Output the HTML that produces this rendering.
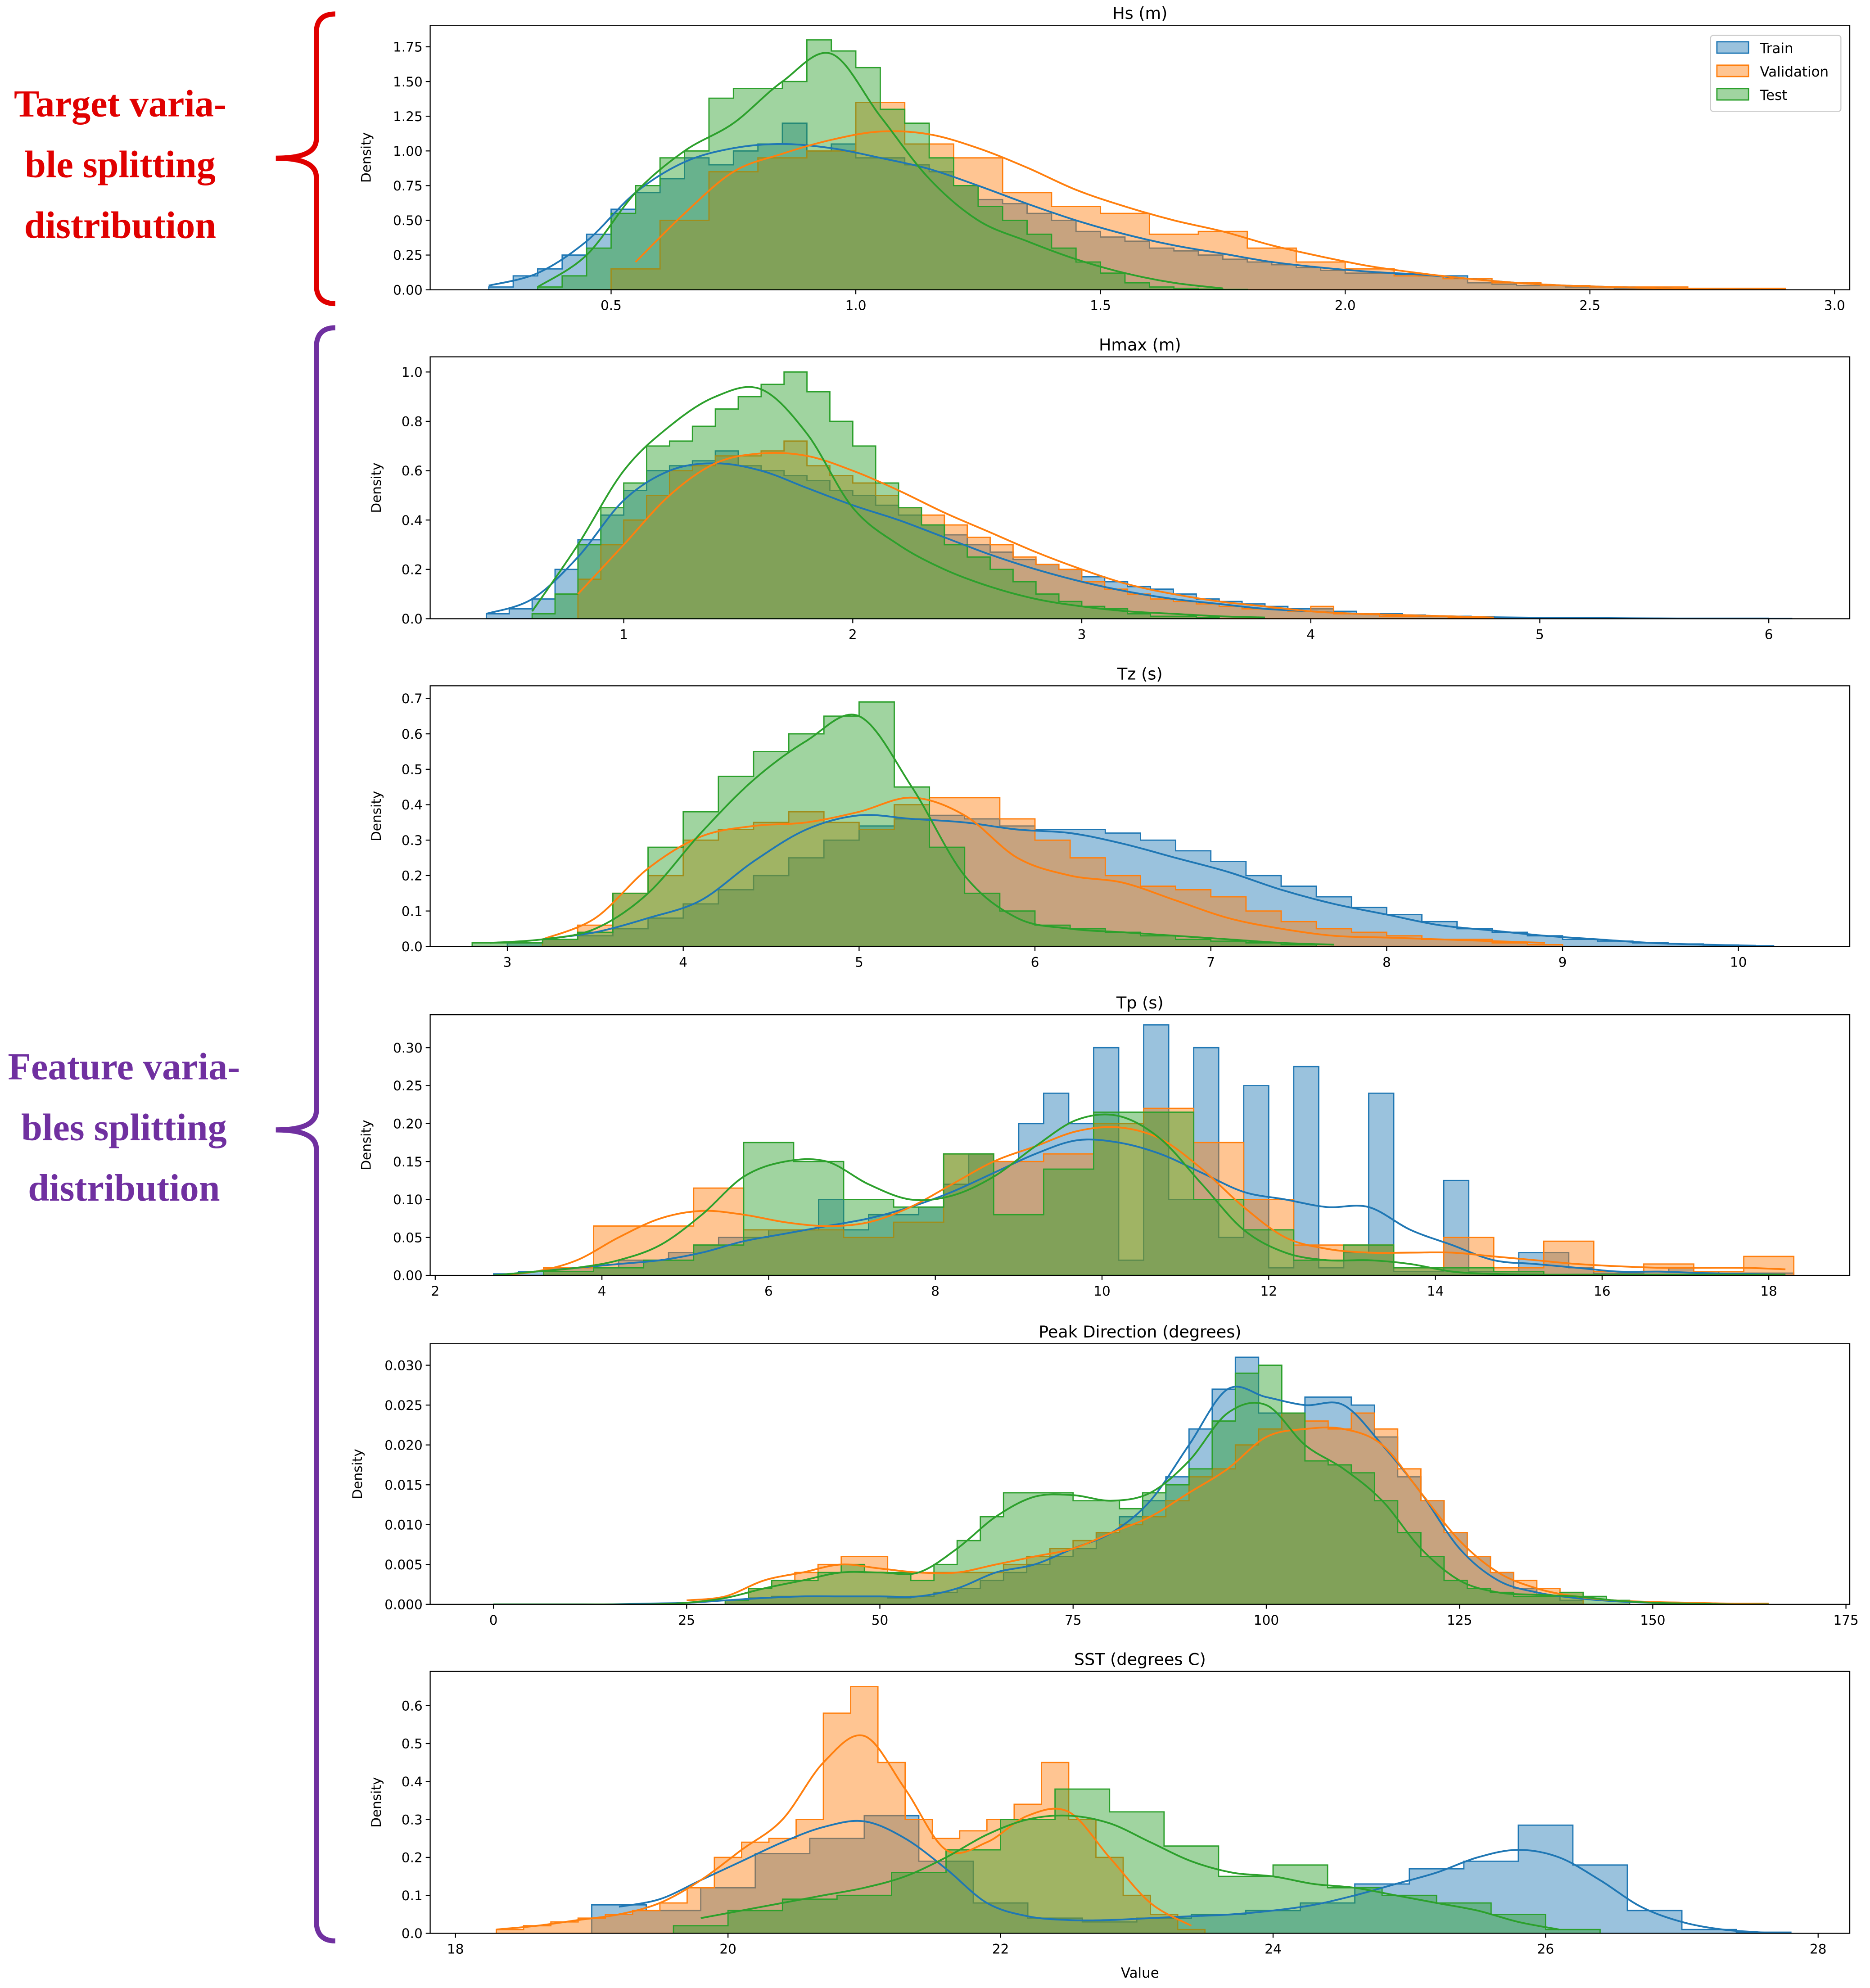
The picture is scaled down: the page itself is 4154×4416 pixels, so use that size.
<!DOCTYPE html>
<html><head><meta charset="utf-8">
<style>
html,body{margin:0;padding:0;background:#fff;}
svg{display:block;}
text{font-family:"DejaVu Sans","Liberation Sans",sans-serif;}
.ann{font-family:"Liberation Serif",serif;font-weight:bold;font-size:30px;}
</style></head>
<body>
<svg id="fig" xmlns="http://www.w3.org/2000/svg" width="4154" height="4416" viewBox="0 0 1478 1571.2">
<rect x="0" y="0" width="1478" height="1572" fill="#fff"/>
<g>
<path d="M265,11 Q250,11 250,26 L250,110 Q250,125 218,125 Q250,125 250,140 L250,225 Q250,240 265,240" fill="none" stroke="#e00000" stroke-width="4"/>
<text class="ann" fill="#e00000" x="95" y="92" text-anchor="middle">Target varia-</text>
<text class="ann" fill="#e00000" x="95" y="140" text-anchor="middle">ble splitting</text>
<text class="ann" fill="#e00000" x="95" y="188" text-anchor="middle">distribution</text>
</g>
<g>
<path d="M265,259 Q250,259 250,275 L250,878 Q250,893 218,893 Q250,893 250,908 L250,1518 Q250,1534 265,1534" fill="none" stroke="#7030a0" stroke-width="4"/>
<text class="ann" fill="#7030a0" x="98" y="853" text-anchor="middle">Feature varia-</text>
<text class="ann" fill="#7030a0" x="98" y="901" text-anchor="middle">bles splitting</text>
<text class="ann" fill="#7030a0" x="98" y="949" text-anchor="middle">distribution</text>
</g>
<g id="panels"></g>
<text x="901" y="1563" font-size="11" text-anchor="middle">Value</text>
</svg>
<script>
// ---------- Hs ----------
const hsTrainBins=[0.25,0.05];
const hsTrainHist=[0.02,0.1,0.15,0.25,0.4,0.58,0.7,0.8,0.95,0.9,1.0,1.05,1.2,1.0,1.05,0.95,0.95,0.9,0.85,0.75,0.65,0.62,0.55,0.5,0.42,0.38,0.35,0.3,0.28,0.25,0.22,0.2,0.18,0.16,0.14,0.12,0.12,0.11,0.1,0.1,0.05,0.04,0.03,0.03,0.02,0.02,0.01,0.01,0.01,0.005,0.005,0.005,0.005];
const hsValBins=[0.5,0.1];
const hsValHist=[0.15,0.5,0.85,0.95,1.0,1.35,1.05,0.95,0.7,0.6,0.55,0.4,0.42,0.3,0.2,0.15,0.1,0.08,0.05,0.03,0.02,0.02,0.01,0.01];
const hsTestBins=[0.35,0.05];
const hsTestHist=[0.02,0.1,0.3,0.55,0.75,0.95,1.0,1.38,1.45,1.45,1.5,1.8,1.72,1.6,1.3,1.2,0.95,0.75,0.6,0.5,0.4,0.3,0.2,0.12,0.05,0.02,0.01,0.005,0.002];
const hsKdeGrid=[0.25,0.1];
const hsTrainKde=[0.03,0.12,0.35,0.7,0.92,1.02,1.05,1.02,0.95,0.87,0.75,0.62,0.5,0.4,0.32,0.26,0.2,0.16,0.13,0.11,0.08,0.05,0.03,0.02,0.01,0.005,0.002];
const hsValKde=[null,null,null,0.2,0.55,0.85,0.98,1.08,1.14,1.12,1.02,0.88,0.72,0.6,0.5,0.42,0.32,0.24,0.17,0.12,0.08,0.05,0.03,0.02,0.01,0.005,0.002];
const hsTestKde=[null,0.02,0.25,0.7,1.0,1.2,1.5,1.7,1.25,0.8,0.5,0.35,0.22,0.12,0.05,0.01];
const hsXTicks=[0.5,1.0,1.5,2.0,2.5,3.0];
const hsYTicks=[0,0.25,0.5,0.75,1.0,1.25,1.5,1.75];
// ---------- Hmax ----------
const hmaxTrainBins=[0.4,0.1];
const hmaxTrainHist=[0.02,0.04,0.08,0.2,0.32,0.42,0.52,0.6,0.62,0.64,0.68,0.62,0.6,0.58,0.56,0.52,0.5,0.46,0.42,0.38,0.34,0.3,0.27,0.24,0.22,0.2,0.17,0.15,0.13,0.12,0.1,0.08,0.07,0.06,0.05,0.04,0.04,0.03,0.02,0.02,0.015,0.01,0.01,0.008,0.005,0.005,0.004,0.003,0.002,0.002,0.001,0.001,0.001,0.001,0.001,0.001,0.001];
const hmaxValBins=[0.8,0.1];
const hmaxValHist=[0.16,0.3,0.4,0.5,0.6,0.62,0.66,0.66,0.68,0.72,0.62,0.58,0.55,0.5,0.45,0.42,0.38,0.33,0.3,0.25,0.22,0.2,0.15,0.12,0.1,0.08,0.07,0.06,0.05,0.04,0.04,0.03,0.05,0.02,0.02,0.01,0.01,0.01,0.005,0.005,0.005,0.003];
const hmaxTestBins=[0.6,0.1];
const hmaxTestHist=[0.02,0.1,0.3,0.45,0.55,0.7,0.72,0.78,0.85,0.9,0.95,1.0,0.92,0.8,0.7,0.55,0.45,0.38,0.3,0.25,0.2,0.15,0.1,0.07,0.05,0.04,0.02,0.01,0.01,0.005];
const hmaxKdeGrid=[0.4,0.2];
const hmaxTrainKde=[0.02,0.08,0.25,0.48,0.6,0.63,0.6,0.53,0.46,0.4,0.33,0.26,0.2,0.15,0.11,0.08,0.06,0.04,0.03,0.02,0.015,0.01,0.006,0.004,0.003,0.002,0.001,0.001,0.001];
const hmaxValKde=[null,null,0.1,0.3,0.5,0.63,0.67,0.66,0.6,0.52,0.43,0.35,0.27,0.2,0.14,0.1,0.07,0.05,0.03,0.02,0.015,0.01,0.005];
const hmaxTestKde=[null,0.03,0.3,0.6,0.78,0.9,0.93,0.75,0.45,0.3,0.2,0.13,0.08,0.05,0.03,0.02,0.01,0.005];
const hmaxXTicks=[1,2,3,4,5,6];
const hmaxYTicks=[0,0.2,0.4,0.6,0.8,1.0];
// ---------- Tz ----------
const tzTrainBins=[3.0,0.2];
const tzTrainHist=[0.01,0.02,0.03,0.05,0.08,0.12,0.16,0.2,0.25,0.3,0.34,0.36,0.37,0.36,0.34,0.33,0.33,0.32,0.3,0.27,0.24,0.2,0.17,0.14,0.11,0.09,0.07,0.05,0.04,0.03,0.02,0.015,0.01,0.007,0.004,0.002];
const tzValBins=[3.2,0.2];
const tzValHist=[0.02,0.06,0.15,0.2,0.3,0.33,0.35,0.38,0.35,0.33,0.4,0.42,0.42,0.36,0.3,0.25,0.2,0.17,0.16,0.14,0.1,0.07,0.05,0.04,0.03,0.02,0.02,0.01,0.005];
const tzTestBins=[2.8,0.2];
const tzTestHist=[0.01,0.01,0.02,0.04,0.15,0.28,0.38,0.48,0.55,0.6,0.65,0.69,0.45,0.28,0.15,0.1,0.06,0.05,0.04,0.03,0.02,0.015,0.01,0.005];
const tzKdeGrid=[2.9,0.3];
const tzTrainKde=[null,0.02,0.04,0.08,0.13,0.24,0.33,0.37,0.36,0.35,0.33,0.32,0.29,0.25,0.21,0.16,0.12,0.09,0.06,0.045,0.03,0.02,0.01,0.005,0.002];
const tzValKde=[null,0.02,0.08,0.22,0.31,0.34,0.35,0.38,0.42,0.37,0.25,0.2,0.18,0.13,0.08,0.05,0.03,0.025,0.02,0.015,0.01];
const tzTestKde=[0.01,0.02,0.05,0.15,0.32,0.47,0.58,0.65,0.45,0.2,0.08,0.05,0.04,0.03,0.02,0.01,0.005];
const tzXTicks=[3,4,5,6,7,8,9,10];
const tzYTicks=[0,0.1,0.2,0.3,0.4,0.5,0.6,0.7];
// ---------- Tp ----------
const tpTrainBins=[2.7,0.3];
const tpTrainHist=[0.002,0.005,0.01,0.01,0.01,0.02,0.02,0.03,0.04,0.05,0.05,0.06,0.06,0.1,0.06,0.08,0.08,0.09,0.12,0.16,0.15,0.2,0.24,0.2,0.3,0.02,0.33,0.1,0.3,0.05,0.25,0.01,0.275,0.01,0.03,0.24,0.005,0.005,0.125,0.005,0.005,0.03,0.03,0.01,0.003,0.003,0.005,0.01,0.005,0.003,0.003,0.003];
const tpValBins=[3.3,0.6];
const tpValHist=[0.01,0.065,0.065,0.115,0.06,0.06,0.05,0.07,0.16,0.15,0.16,0.2,0.22,0.175,0.1,0.04,0.04,0.01,0.05,0.01,0.045,0.005,0.015,0.005,0.025];
const tpTestBins=[3.3,0.6];
const tpTestHist=[0.005,0.01,0.02,0.04,0.175,0.15,0.1,0.09,0.16,0.08,0.14,0.215,0.215,0.1,0.06,0.02,0.04,0.01,0.01,0.005];
const tpKdeGrid=[2.7,0.5];
const tpTrainKde=[0,0.005,0.01,0.015,0.02,0.03,0.045,0.055,0.065,0.075,0.09,0.11,0.135,0.16,0.178,0.175,0.16,0.135,0.11,0.1,0.09,0.09,0.06,0.04,0.02,0.015,0.01,0.005,0.005,0.003,0.002,0.001];
const tpValKde=[0,0.005,0.02,0.05,0.075,0.085,0.08,0.07,0.065,0.07,0.09,0.12,0.15,0.17,0.19,0.195,0.18,0.14,0.09,0.05,0.035,0.03,0.03,0.03,0.025,0.02,0.015,0.012,0.01,0.01,0.01,0.008];
const tpTestKde=[0,0.005,0.01,0.02,0.04,0.08,0.13,0.15,0.15,0.12,0.1,0.105,0.13,0.17,0.205,0.21,0.18,0.12,0.06,0.03,0.02,0.02,0.015,0.005,0.002,0.001,0.001,0.001,0.001,0.001,0.001,0.001];
const tpXTicks=[2,4,6,8,10,12,14,16,18];
const tpYTicks=[0,0.05,0.1,0.15,0.2,0.25,0.3];
// ---------- Peak Direction ----------
const pdTrainBins=[30,3];
const pdTrainHist=[0.0005,0.0008,0.001,0.001,0.001,0.001,0.001,0.0008,0.001,0.0015,0.002,0.003,0.004,0.005,0.006,0.007,0.009,0.011,0.013,0.016,0.022,0.027,0.031,0.024,0.024,0.026,0.026,0.025,0.021,0.016,0.013,0.009,0.006,0.004,0.002,0.001,0.0005];
const pdValBins=[30,3];
const pdValHist=[0.0005,0.002,0.003,0.004,0.005,0.006,0.006,0.004,0.004,0.004,0.004,0.004,0.005,0.006,0.007,0.008,0.009,0.01,0.011,0.013,0.016,0.017,0.02,0.022,0.024,0.023,0.022,0.024,0.022,0.017,0.013,0.009,0.006,0.004,0.003,0.002,0.0015];
const pdTestBins=[30,3];
const pdTestHist=[0.0005,0.002,0.003,0.003,0.004,0.005,0.004,0.004,0.003,0.005,0.008,0.011,0.014,0.014,0.014,0.013,0.013,0.012,0.014,0.015,0.017,0.023,0.029,0.03,0.024,0.018,0.0175,0.0165,0.013,0.009,0.006,0.003,0.002,0.0015,0.001,0.001,0.0015,0.001,0.0005];
const pdKdeGrid=[0,5];
const pdTrainKde=[0,0,0,0,0.0001,0.0002,0.0005,0.0008,0.001,0.001,0.001,0.001,0.002,0.004,0.005,0.007,0.009,0.013,0.02,0.027,0.026,0.025,0.025,0.02,0.014,0.007,0.003,0.0015,0.0008,0.0004,0.0002,0.0001,0,0];
const pdValKde=[null,null,null,null,null,0.0005,0.001,0.003,0.004,0.005,0.0045,0.004,0.004,0.005,0.006,0.007,0.009,0.011,0.014,0.017,0.021,0.022,0.022,0.02,0.014,0.008,0.004,0.002,0.001,0.0005,0.0003,0.0002,0.0001,0.0001];
const pdTestKde=[0,0,0,0,0,0.0002,0.0008,0.002,0.003,0.004,0.004,0.004,0.007,0.011,0.0135,0.0137,0.013,0.014,0.018,0.024,0.025,0.02,0.017,0.013,0.007,0.003,0.0015,0.0012,0.001,0.0005,0.0002,0.0001,0,0];
const pdXTicks=[0,25,50,75,100,125,150,175];
const pdYTicks=[0,0.005,0.01,0.015,0.02,0.025,0.03];
// ---------- SST ----------
const sstTrainBins=[19.0,0.4];
const sstTrainHist=[0.075,0.06,0.12,0.21,0.25,0.31,0.19,0.08,0.04,0.03,0.04,0.05,0.06,0.08,0.13,0.17,0.19,0.285,0.18,0.06,0.01,0.003];
const sstValBins=[18.3,0.2];
const sstValHist=[0.01,0.02,0.03,0.04,0.05,0.06,0.08,0.12,0.2,0.24,0.25,0.3,0.58,0.65,0.45,0.3,0.25,0.27,0.3,0.34,0.45,0.3,0.2,0.1,0.05,0.01];
const sstTestBins=[19.6,0.4];
const sstTestHist=[0.02,0.06,0.09,0.1,0.16,0.22,0.3,0.38,0.32,0.23,0.15,0.18,0.12,0.1,0.08,0.05,0.01];
const sstKdeGrid=[18.3,0.3];
const sstTrainKde=[null,null,null,0.07,0.09,0.14,0.19,0.24,0.28,0.295,0.25,0.17,0.08,0.045,0.035,0.035,0.04,0.045,0.05,0.06,0.075,0.1,0.13,0.16,0.2,0.22,0.2,0.14,0.07,0.03,0.01,0.002];
const sstValKde=[0.01,0.02,0.035,0.05,0.08,0.14,0.22,0.3,0.45,0.52,0.38,0.22,0.24,0.31,0.32,0.2,0.08,0.02];
const sstTestKde=[null,null,null,null,null,0.04,0.06,0.08,0.1,0.12,0.15,0.2,0.26,0.3,0.31,0.29,0.24,0.19,0.16,0.15,0.13,0.12,0.1,0.08,0.06,0.03,0.01];
const sstXTicks=[18,20,22,24,26,28];
const sstYTicks=[0,0.1,0.2,0.3,0.4,0.5,0.6];

const COLORS={train:'#1f77b4',val:'#ff7f0e',test:'#2ca02c'};
function lin(v1,p1,v2,p2){return v=>p1+(v-v1)*(p2-p1)/(v2-v1);}

const panels=[
 {key:'hs',title:'Hs (m)',top:20,bottom:229,x:lin(0.5,483,3.0,1450),y:lin(0,229,1.75,37),xt:hsXTicks,yt:hsYTicks,xd:1,yd:2,dx:293,
  tr:[hsTrainBins,hsTrainHist],va:[hsValBins,hsValHist],te:[hsTestBins,hsTestHist],grid:hsKdeGrid,kt:hsTrainKde,kv:hsValKde,ke:hsTestKde,legend:true},
 {key:'hmax',title:'Hmax (m)',top:282,bottom:489,x:lin(1,493,6,1398),y:lin(0,489,1.0,294),xt:hmaxXTicks,yt:hmaxYTicks,xd:0,yd:1,dx:301,
  tr:[hmaxTrainBins,hmaxTrainHist],va:[hmaxValBins,hmaxValHist],te:[hmaxTestBins,hmaxTestHist],grid:hmaxKdeGrid,kt:hmaxTrainKde,kv:hmaxValKde,ke:hmaxTestKde},
 {key:'tz',title:'Tz (s)',top:542,bottom:748,x:lin(3,401,10,1374),y:lin(0,748,0.7,552),xt:tzXTicks,yt:tzYTicks,xd:0,yd:1,dx:301,
  tr:[tzTrainBins,tzTrainHist],va:[tzValBins,tzValHist],te:[tzTestBins,tzTestHist],grid:tzKdeGrid,kt:tzTrainKde,kv:tzValKde,ke:tzTestKde},
 {key:'tp',title:'Tp (s)',top:802,bottom:1008,x:lin(2,344,18,1398),y:lin(0,1008,0.30,828),xt:tpXTicks,yt:tpYTicks,xd:0,yd:2,dx:293,
  tr:[tpTrainBins,tpTrainHist],va:[tpValBins,tpValHist],te:[tpTestBins,tpTestHist],grid:tpKdeGrid,kt:tpTrainKde,kv:tpValKde,ke:tpTestKde},
 {key:'peak-direction',title:'Peak Direction (degrees)',top:1062,bottom:1268,x:lin(0,390,175,1459),y:lin(0,1268,0.03,1079),xt:pdXTicks,yt:pdYTicks,xd:0,yd:3,dx:286,
  tr:[pdTrainBins,pdTrainHist],va:[pdValBins,pdValHist],te:[pdTestBins,pdTestHist],grid:pdKdeGrid,kt:pdTrainKde,kv:pdValKde,ke:pdTestKde},
 {key:'sst',title:'SST (degrees C)',top:1321,bottom:1528,x:lin(18,360,28,1437),y:lin(0,1528,0.6,1348),xt:sstXTicks,yt:sstYTicks,xd:0,yd:1,dx:301,
  tr:[sstTrainBins,sstTrainHist],va:[sstValBins,sstValHist],te:[sstTestBins,sstTestHist],grid:sstKdeGrid,kt:sstTrainKde,kv:sstValKde,ke:sstTestKde}
];
const NS='http://www.w3.org/2000/svg';
const L=340,R=1462;
function mk(tag,attrs,parent){const e=document.createElementNS(NS,tag);for(const k in attrs)e.setAttribute(k,attrs[k]);if(parent)parent.appendChild(e);return e;}
function histPath(p,bins,h){
  const s=bins[0],w=bins[1];const y0=p.y(0);
  let d='M'+p.x(s).toFixed(2)+','+y0.toFixed(2);
  h.forEach((v,i)=>{const a=p.x(s+i*w),b=p.x(s+(i+1)*w),yy=p.y(v);d+=' L'+a.toFixed(2)+','+yy.toFixed(2)+' L'+b.toFixed(2)+','+yy.toFixed(2);});
  d+=' L'+p.x(s+h.length*w).toFixed(2)+','+y0.toFixed(2)+' Z';return d;
}
function kdePaths(p,grid,vals){
  const segs=[];let cur=[];
  vals.forEach((v,i)=>{if(v===null||v===undefined){if(cur.length)segs.push(cur);cur=[];}else cur.push([p.x(grid[0]+i*grid[1]),p.y(v)]);});
  if(cur.length)segs.push(cur);
  return segs.map(pts=>{
    let d='M'+pts[0][0].toFixed(2)+','+pts[0][1].toFixed(2);
    for(let i=0;i<pts.length-1;i++){
      const p0=pts[Math.max(0,i-1)],p1=pts[i],p2=pts[i+1],p3=pts[Math.min(pts.length-1,i+2)];
      const c1=[p1[0]+(p2[0]-p0[0])/6,p1[1]+(p2[1]-p0[1])/6],c2=[p2[0]-(p3[0]-p1[0])/6,p2[1]-(p3[1]-p1[1])/6];
      d+=' C'+c1[0].toFixed(2)+','+c1[1].toFixed(2)+' '+c2[0].toFixed(2)+','+c2[1].toFixed(2)+' '+p2[0].toFixed(2)+','+p2[1].toFixed(2);
    }
    return d;
  }).join(' ');
}
const root=document.getElementById('panels');
panels.forEach((p,pi)=>{
  const g=mk('g',{},root);
  
  
  const cid='clip'+pi;
  const cp=mk('clipPath',{id:cid},g);mk('rect',{x:L,y:p.top,width:R-L,height:p.bottom-p.top},cp);
  const plot=mk('g',{'clip-path':'url(#'+cid+')'},g);
  const series=[['train',p.tr,p.kt],['validation',p.va,p.kv],['test',p.te,p.ke]];
  const cols=[COLORS.train,COLORS.val,COLORS.test];
  series.forEach((s,si)=>{
    const path=mk('path',{d:histPath(p,s[1][0],s[1][1]),fill:cols[si],'fill-opacity':0.45,stroke:cols[si],'stroke-width':1},plot);
    
    
  });
  series.forEach((s,si)=>{
    const path=mk('path',{d:kdePaths(p,p.grid,s[2]),fill:'none',stroke:cols[si],'stroke-width':1.4},plot);
    
    
  });
  const frame=mk('rect',{x:L,y:p.top,width:R-L,height:p.bottom-p.top,fill:'none',stroke:'#000','stroke-width':0.8},g);
  
  
  p.xt.forEach(v=>{
    const xx=p.x(v);
    mk('line',{x1:xx,x2:xx,y1:p.bottom,y2:p.bottom+3.5,stroke:'#000','stroke-width':0.8},g);
    const t=mk('text',{x:xx,y:p.bottom+16,'font-size':10.5,'text-anchor':'middle'},g);
    t.textContent=v.toFixed(p.xd);
    
    
  });
  p.yt.forEach(v=>{
    const yy=p.y(v);
    mk('line',{x1:L-3.5,x2:L,y1:yy,y2:yy,stroke:'#000','stroke-width':0.8},g);
    const t=mk('text',{x:L-6,y:yy+3.8,'font-size':10.5,'text-anchor':'end'},g);
    t.textContent=v.toFixed(p.yd);
    
    
  });
  const tt=mk('text',{x:(L+R)/2,y:p.top-5,'font-size':13,'text-anchor':'middle'},g);
  tt.textContent=p.title;
  
  
  const yc=(p.top+p.bottom)/2;
  const yl=mk('text',{x:p.dx,y:yc,'font-size':10.5,'text-anchor':'middle',transform:'rotate(-90 '+p.dx+' '+yc+')'},g);
  yl.textContent='Density';
  
  
  if(p.legend){
    const lg=mk('g',{},g);
    
    
    mk('rect',{x:1352,y:28,width:103,height:60,rx:2,fill:'#fff',stroke:'#ccc','stroke-width':0.8},lg);
    ['Train','Validation','Test'].forEach((n,i)=>{
      const e=mk('g',{},lg);
      
      
      mk('rect',{x:1357,y:33+i*18.5,width:25,height:9,fill:cols[i],'fill-opacity':0.45,stroke:cols[i],'stroke-width':1},e);
      const t=mk('text',{x:1391,y:42+i*18.5,'font-size':11},e);t.textContent=n;
    });
  }
});
</script>
</body></html>
